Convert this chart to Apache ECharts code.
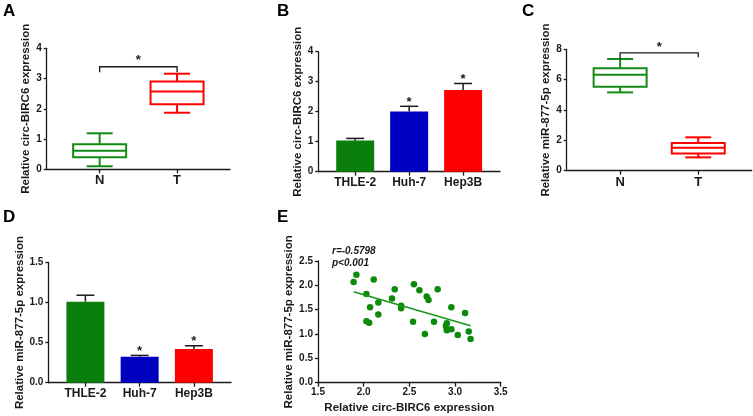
<!DOCTYPE html>
<html>
<head>
<meta charset="utf-8">
<script src="https://cdn.jsdelivr.net/npm/echarts@6/dist/echarts.min.js"></script>
<style>html,body{margin:0;padding:0;background:#fff}#chart{width:753px;height:416px}</style>
</head>
<body>
<div id="chart"></div>
<script>
var groups = ['N', 'T'];
var cellLines = ['THLE-2', 'Huh-7', 'Hep3B'];
// min, Q1, median, Q3, max
var boxA = [[0.10, 0.40, 0.61, 0.83, 1.19], [1.87, 2.15, 2.57, 2.90, 3.16]];
var boxC = [[5.16, 5.54, 6.33, 6.75, 7.36], [0.88, 1.14, 1.52, 1.82, 2.20]];
// left leg, top, right leg
var bracketA = [3.21, 3.39, 3.21];
var bracketC = [7.36, 7.76, 7.47];
var meanB = [1.04, 2.01, 2.72];
var upperB = [1.11, 2.18, 2.94];
var starB = ['', '*', '*'];
var meanD = [1.01, 0.324, 0.42];
var upperD = [1.09, 0.34, 0.46];
var starD = ['', '*', '*'];
var circX = [1.89, 1.92, 2.03, 2.11, 2.07, 2.03, 2.06, 2.16, 2.16, 2.31, 2.34, 2.41, 2.41, 2.54, 2.55,
             2.61, 2.67, 2.69, 2.71, 2.77, 2.81, 2.91, 2.90, 2.91, 2.96, 2.96, 3.03, 3.11, 3.15, 3.17];
var mirY = [2.07, 2.22, 1.82, 2.12, 1.55, 1.26, 1.23, 1.65, 1.40, 1.73, 1.92, 1.58, 1.53, 1.25, 2.02,
            1.90, 1.00, 1.77, 1.70, 1.25, 1.92, 1.22, 1.16, 1.08, 1.10, 1.55, 0.98, 1.43, 1.05, 0.90];
var fitX = [1.89, 3.17];
var fitY = [1.87, 1.17];

var boxColors = ['#148a14', '#ff0000'];
var barColors = ['#0b7f0b', '#0000c0', '#ff0000'];
var ink = '#1a1a1a';
var font = 'Liberation Sans, Arial, sans-serif';
var pad = 0.684;

function valueAxis(gi, min, max, interval, name, gap, fmt) {
    return {
        type: 'value', gridIndex: gi, min: min, max: max, interval: interval,
        name: name, nameLocation: 'middle', nameGap: gap,
        nameTextStyle: {fontFamily: font, fontWeight: 'bold', fontSize: 11.5, color: ink},
        axisLine: {show: true, onZero: false, lineStyle: {color: ink, width: 1.3}},
        axisTick: {show: true, length: 3, lineStyle: {color: ink, width: 1.3}},
        axisLabel: {fontFamily: font, fontWeight: 'bold', fontSize: 10, color: ink, margin: 5, formatter: fmt},
        splitLine: {show: false}
    };
}
function groupAxis(gi, cats, fontSize) {
    var ticks = cats.map(function (c, i) { return i + 1; });
    return {
        type: 'value', gridIndex: gi, min: 1 - pad, max: cats.length + pad,
        axisLine: {show: true, onZero: false, lineStyle: {color: ink, width: 1.3}},
        axisTick: {show: true, customValues: ticks, length: 4, lineStyle: {color: ink, width: 1.3}},
        axisLabel: {
            customValues: ticks, fontFamily: font, fontWeight: 'bold', fontSize: fontSize, color: ink, margin: 5,
            formatter: function (v) { return cats[Math.round(v) - 1]; }
        },
        splitLine: {show: false}
    };
}
function fixed1(v) { return v.toFixed(1); }

function boxRenderer(params, api) {
    var x = api.value(0);
    var p = [1, 2, 3, 4, 5].map(function (d) { return api.coord([x, api.value(d)]); });
    var cx = p[0][0], hw = 26.5, cw = 13;
    var st = {stroke: boxColors[params.dataIndex], lineWidth: 2};
    function seg(x1, y1, x2, y2) { return {type: 'line', shape: {x1: x1, y1: y1, x2: x2, y2: y2}, style: st}; }
    return {type: 'group', children: [
        {type: 'rect', shape: {x: cx - hw, y: p[3][1], width: 2 * hw, height: p[1][1] - p[3][1]},
         style: {stroke: st.stroke, lineWidth: 2, fill: '#fff'}},
        seg(cx - hw, p[2][1], cx + hw, p[2][1]),
        seg(cx, p[3][1], cx, p[4][1]),
        seg(cx, p[1][1], cx, p[0][1]),
        seg(cx - cw, p[4][1], cx + cw, p[4][1]),
        seg(cx - cw, p[0][1], cx + cw, p[0][1])
    ]};
}
function bracketRenderer(params, api) {
    var top = api.value(1);
    var pts = [api.coord([1, api.value(2)]), api.coord([1, top]), api.coord([2, top]), api.coord([2, api.value(3)])];
    var mid = api.coord([1.5, top]);
    return {type: 'group', children: [
        {type: 'polyline', shape: {points: pts}, style: {stroke: ink, lineWidth: 1.3, fill: null}},
        {type: 'text', x: mid[0], y: mid[1] - 6,
         style: {text: '*', fontFamily: font, fontWeight: 'bold', fontSize: 13, fill: ink, align: 'center', verticalAlign: 'middle'}}
    ]};
}
function errRenderer(stars) {
    return function (params, api) {
        var x = api.value(0);
        var m = api.coord([x, api.value(1)]), e = api.coord([x, api.value(2)]);
        var st = {stroke: ink, lineWidth: 1.5};
        var ch = [
            {type: 'line', shape: {x1: m[0], y1: m[1], x2: e[0], y2: e[1]}, style: st},
            {type: 'line', shape: {x1: e[0] - 9, y1: e[1], x2: e[0] + 9, y2: e[1]}, style: st}
        ];
        if (stars[params.dataIndex]) {
            ch.push({type: 'text', x: e[0], y: e[1] - 4,
                style: {text: stars[params.dataIndex], fontFamily: font, fontWeight: 'bold', fontSize: 13, fill: ink, align: 'center', verticalAlign: 'middle'}});
        }
        return {type: 'group', children: ch};
    };
}
function boxData(rows) { return rows.map(function (r, i) { return [i + 1].concat(r); }); }
function barData(vals) { return vals.map(function (v, i) { return [i + 1, v]; }); }
function errData(m, u) { return m.map(function (v, i) { return [i + 1, v, u[i]]; }); }
function barSeries(gi, vals) {
    return {
        type: 'bar', xAxisIndex: gi, yAxisIndex: gi, barWidth: 38, data: barData(vals),
        itemStyle: {color: function (p) { return barColors[p.dataIndex]; }}
    };
}

var chart = echarts.init(document.getElementById('chart'));
var letterStyle = {fontFamily: font, fontWeight: 'bold', fontSize: 17, fill: '#000'};
var opt = {
    backgroundColor: '#fff',
    animation: false,
    grid: [
        {left: 46.7, top: 48.3, width: 183.3, height: 121, outerBoundsMode: 'none'},
        {left: 318.3, top: 51.7, width: 181.7, height: 120, outerBoundsMode: 'none'},
        {left: 566.7, top: 49.3, width: 185, height: 121.4, outerBoundsMode: 'none'},
        {left: 48.3, top: 262.3, width: 182.7, height: 120.4, outerBoundsMode: 'none'},
        {left: 318, top: 261, width: 182.7, height: 121.7, outerBoundsMode: 'none'}
    ],
    xAxis: [
        groupAxis(0, groups, 13),
        groupAxis(1, cellLines, 12),
        groupAxis(2, groups, 13),
        groupAxis(3, cellLines, 12),
        (function () {
            var a = valueAxis(4, 1.5, 3.5, 0.5, 'Relative circ-BIRC6 expression', 19, fixed1);
            a.axisTick.length = 4;
            return a;
        })()
    ],
    yAxis: [
        valueAxis(0, 0, 4, 1, 'Relative circ-BIRC6 expression', 12),
        valueAxis(1, 0, 4, 1, 'Relative circ-BIRC6 expression', 11),
        valueAxis(2, 0, 8, 2, 'Relative miR-877-5p expression', 11),
        valueAxis(3, 0, 1.5, 0.5, 'Relative miR-877-5p expression', 18.5, fixed1),
        valueAxis(4, 0, 2.5, 0.5, 'Relative miR-877-5p expression', 18.5, fixed1)
    ],
    graphic: [
        {type: 'text', left: 3, top: 3, style: Object.assign({text: 'A'}, letterStyle)},
        {type: 'text', left: 277, top: 3, style: Object.assign({text: 'B'}, letterStyle)},
        {type: 'text', left: 522, top: 3, style: Object.assign({text: 'C'}, letterStyle)},
        {type: 'text', left: 3, top: 209, style: Object.assign({text: 'D'}, letterStyle)},
        {type: 'text', left: 277, top: 209, style: Object.assign({text: 'E'}, letterStyle)},
        {type: 'text', left: 332, top: 246, style: {text: 'r=-0.5798', fontFamily: font, fontWeight: 'bold', fontStyle: 'italic', fontSize: 10, fill: ink}},
        {type: 'text', left: 332, top: 258, style: {text: 'p<0.001', fontFamily: font, fontWeight: 'bold', fontStyle: 'italic', fontSize: 10, fill: ink}}
    ],
    series: [
        {type: 'custom', xAxisIndex: 0, yAxisIndex: 0, renderItem: boxRenderer, data: boxData(boxA), encode: {x: 0, y: [1, 2, 3, 4, 5]}},
        {type: 'custom', xAxisIndex: 0, yAxisIndex: 0, renderItem: bracketRenderer, data: [[1.5].concat([bracketA[1], bracketA[0], bracketA[2]])], encode: {x: 0, y: [1, 2, 3]}},
        barSeries(1, meanB),
        {type: 'custom', xAxisIndex: 1, yAxisIndex: 1, z: 5, renderItem: errRenderer(starB), data: errData(meanB, upperB), encode: {x: 0, y: [1, 2]}},
        {type: 'custom', xAxisIndex: 2, yAxisIndex: 2, renderItem: boxRenderer, data: boxData(boxC), encode: {x: 0, y: [1, 2, 3, 4, 5]}},
        {type: 'custom', xAxisIndex: 2, yAxisIndex: 2, renderItem: bracketRenderer, data: [[1.5].concat([bracketC[1], bracketC[0], bracketC[2]])], encode: {x: 0, y: [1, 2, 3]}},
        barSeries(3, meanD),
        {type: 'custom', xAxisIndex: 3, yAxisIndex: 3, z: 5, renderItem: errRenderer(starD), data: errData(meanD, upperD), encode: {x: 0, y: [1, 2]}},
        {
            type: 'scatter', xAxisIndex: 4, yAxisIndex: 4, symbolSize: 6.5,
            itemStyle: {color: '#0b8a0b', opacity: 1},
            data: circX.map(function (x, i) { return [x, mirY[i]]; })
        },
        {
            type: 'line', xAxisIndex: 4, yAxisIndex: 4, symbol: 'none',
            lineStyle: {color: '#16961a', width: 1.5},
            data: fitX.map(function (x, i) { return [x, fitY[i]]; })
        }
    ]
};
chart.setOption(opt);
window.addEventListener('resize', chart.resize);
</script>
</body>
</html>
